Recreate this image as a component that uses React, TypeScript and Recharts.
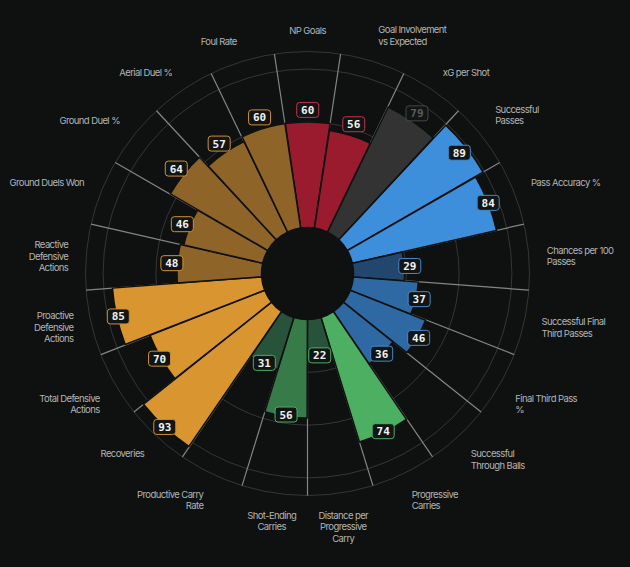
import React from 'react';
import {
  RadialBarChart,
  RadialBar,
  PolarAngleAxis,
  PolarRadiusAxis,
  PolarGrid,
  LabelList,
  Cell,
} from 'recharts';

const metrics = [
  'NP Goals',
  'Goal Involvement\nvs Expected',
  'xG per Shot',
  'Successful\nPasses',
  'Pass Accuracy %',
  'Chances per 100\nPasses',
  'Successful Final\nThird Passes',
  'Final Third Pass\n%',
  'Successful\nThrough Balls',
  'Progressive\nCarries',
  'Distance per\nProgressive\nCarry',
  'Shot-Ending\nCarries',
  'Productive Carry\nRate',
  'Recoveries',
  'Total Defensive\nActions',
  'Proactive\nDefensive\nActions',
  'Reactive\nDefensive\nActions',
  'Ground Duels Won',
  'Ground Duel %',
  'Aerial Duel %',
  'Foul Rate',
];

const percentiles = [60, 56, 79, 89, 84, 29, 37, 46, 36, 74, 22, 56, 31, 93, 70, 85, 48, 46, 64, 57, 60];

const groups = [
  'attack', 'attack', 'attack',
  'passing', 'passing', 'passing', 'passing', 'passing', 'passing',
  'carrying', 'carrying', 'carrying', 'carrying',
  'defending', 'defending', 'defending', 'defending', 'defending', 'defending', 'defending', 'defending',
];

// metrics shown greyed out (small sample)
const lowSample = ['xG per Shot'];

const palette: Record<string, { bright: string; mid: string; dark: string; edge: string }> = {
  attack: { bright: '#c92a40', mid: '#9b1b2e', dark: '#5e1420', edge: '#c3334b' },
  passing: { bright: '#3d8fdc', mid: '#2f69a3', dark: '#22466d', edge: '#4489cc' },
  carrying: { bright: '#4caf62', mid: '#367b48', dark: '#27533a', edge: '#4caf62' },
  defending: { bright: '#d9952f', mid: '#8f6428', dark: '#5a4020', edge: '#d09032' },
};

const data = metrics.map((name, i) => ({ name, value: percentiles[i] }));

const W = 630;
const H = 567;
const CX = 307.5;
const CY = 273.5;
const INNER = 46;
const OUTER = 222;
const N = metrics.length;
const STEP = 360 / N;
const START = 90 + STEP / 2;
const BG = '#0e1110';
const LABEL_R = 240;
const LH = 11.5;

const boundaries = metrics.map((_, i) => START - i * STEP);
const rings = [30, 60, 90, 100].map((v) => INNER + ((OUTER - INNER) * v) / 100);

function sliceColor(i: number) {
  if (lowSample.includes(metrics[i])) return '#333333';
  const p = palette[groups[i]];
  const v = percentiles[i];
  if (v >= 67) return p.bright;
  if (v >= 34) return p.mid;
  return p.dark;
}

function CategoryTick(props: any) {
  const name: string = props.payload.value;
  const i = metrics.indexOf(name);
  const a = ((90 - i * STEP) * Math.PI) / 180;
  const cos = Math.cos(a);
  const sin = Math.sin(a);
  const x = CX + LABEL_R * cos;
  const y = CY - LABEL_R * sin;
  const anchor = Math.abs(cos) < 0.2 ? 'middle' : cos > 0 ? 'start' : 'end';
  const lines = name.split('\n');
  const n = lines.length;
  let first: number;
  if (sin > 0.3) first = y - 3.5 - (n - 1) * LH;
  else if (sin < -0.3) first = y + 4;
  else first = y - ((n - 1) * LH) / 2;
  return (
    <text
      textAnchor={anchor}
      dominantBaseline="central"
      fill="#b4b4b4"
      fontSize={9.5}
      fontFamily="Inter, sans-serif"
      letterSpacing={-0.6}
    >
      {lines.map((l, k) => (
        <tspan key={k} x={x} y={first + k * LH}>
          {l}
        </tspan>
      ))}
    </text>
  );
}

function ValueBox(props: any) {
  const { viewBox, index } = props;
  if (!viewBox) return null;
  const value = percentiles[index];
  const mid = (viewBox.startAngle + viewBox.endAngle) / 2;
  const a = (mid * Math.PI) / 180;
  const sin = Math.sin(a);
  let r = viewBox.outerRadius + 5 + 7 * sin;
  if (sin > -0.5) r = Math.min(r, 194);
  const x = viewBox.cx + r * Math.cos(a);
  const y = viewBox.cy - r * sin;
  const muted = lowSample.includes(metrics[index]);
  const edge = muted ? '#474747' : palette[groups[index]].edge;
  return (
    <g>
      <rect x={x - 11} y={y - 7.5} width={22} height={15} rx={3} fill="#111514" stroke={edge} strokeWidth={1} />
      <text
        x={x}
        y={y + 0.5}
        textAnchor="middle"
        dominantBaseline="central"
        fill={muted ? '#5c5c5c' : '#f2f2f2'}
        fontSize={11}
        fontWeight="bold"
        fontFamily="'DejaVu Sans Mono', monospace"
      >
        {value}
      </text>
    </g>
  );
}

export default function App() {
  return (
    <div style={{ position: 'fixed', inset: 0, background: BG }}>
      <RadialBarChart
        width={W}
        height={H}
        cx={CX}
        cy={CY}
        innerRadius={INNER}
        outerRadius={OUTER}
        startAngle={START - STEP}
        endAngle={START - STEP - 360}
        data={data}
        layout="centric"
        barCategoryGap={0}
        barGap={0}
        margin={{ top: 0, right: 0, bottom: 0, left: 0 }}
      >
        <PolarAngleAxis dataKey="name" type="category" tick={CategoryTick} tickLine={false} axisLine={false} />
        <PolarRadiusAxis type="number" domain={[0, 100]} tick={false} axisLine={false} />
        <RadialBar dataKey="value" stackId="s" isAnimationActive={false} stroke={BG} strokeWidth={1.5}>
          {data.map((d, i) => (
            <Cell key={d.name} fill={sliceColor(i)} />
          ))}
        </RadialBar>
        <PolarGrid gridType="circle" polarAngles={[]} polarRadius={rings} radialLines={false} stroke="rgba(140,140,140,0.3)" />
        <PolarGrid gridType="circle" polarAngles={boundaries} polarRadius={[0]} stroke="#858585" strokeWidth={1.2} />
        <RadialBar dataKey={() => 0} stackId="s" isAnimationActive={false} fill="none" stroke="none">
          <LabelList dataKey="value" content={ValueBox} />
        </RadialBar>
      </RadialBarChart>
    </div>
  );
}
